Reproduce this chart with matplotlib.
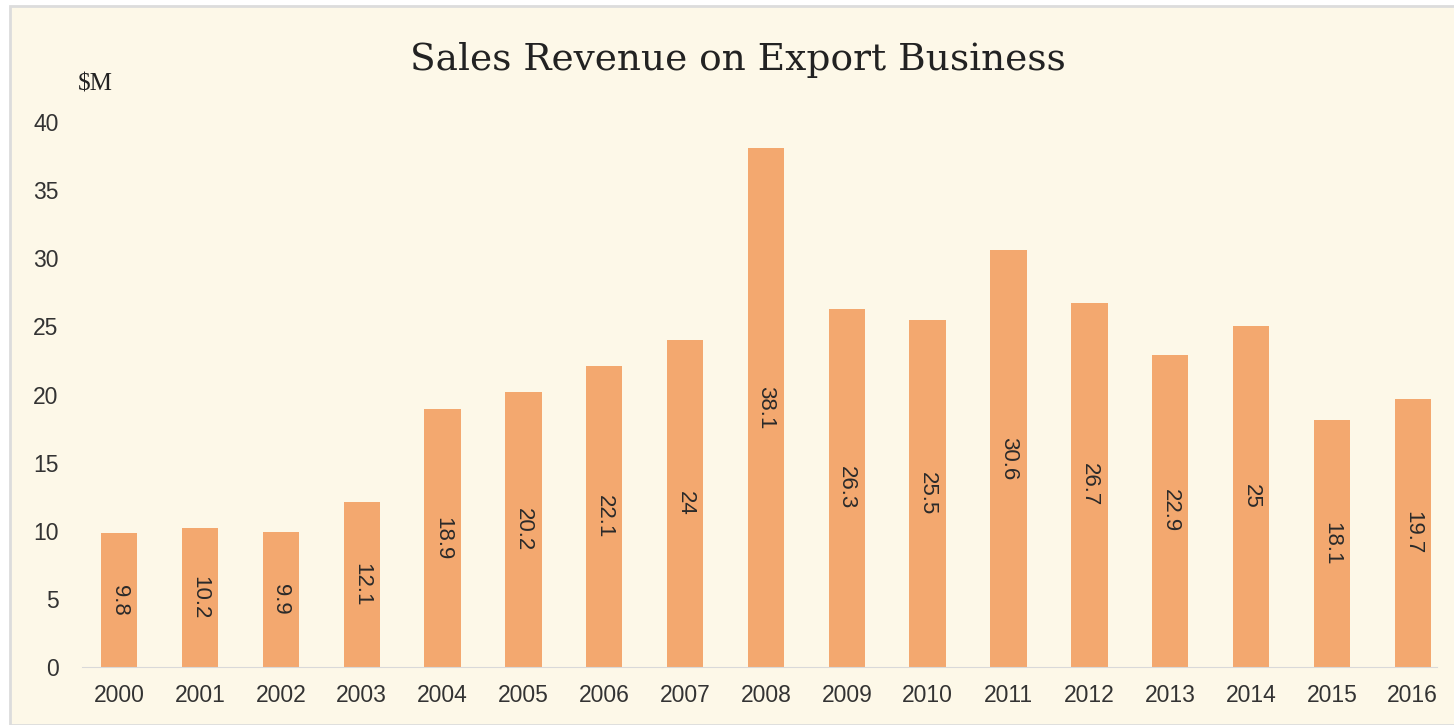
import matplotlib.pyplot as plt
from matplotlib.patches import Rectangle

years = ['2000', '2001', '2002', '2003', '2004', '2005', '2006', '2007', '2008',
         '2009', '2010', '2011', '2012', '2013', '2014', '2015', '2016']
revenue = [9.8, 10.2, 9.9, 12.1, 18.9, 20.2, 22.1, 24, 38.1,
           26.3, 25.5, 30.6, 26.7, 22.9, 25, 18.1, 19.7]
labels = ['9.8', '10.2', '9.9', '12.1', '18.9', '20.2', '22.1', '24', '38.1',
          '26.3', '25.5', '30.6', '26.7', '22.9', '25', '18.1', '19.7']

bg = '#fdf8e8'
bar_color = '#f3a86f'

fig = plt.figure(figsize=(14.54, 7.25), dpi=100, facecolor='white')
fig.patches.append(Rectangle((10 / 1454, 0), 1, 1 - 6 / 725, transform=fig.transFigure,
                             facecolor=bg, edgecolor='#dcdcdc', linewidth=2, zorder=-1))

ax = fig.add_axes([82 / 1454, 1 - 667 / 725, (1437 - 82) / 1454, (667 - 122) / 725])
ax.set_facecolor('none')
x = range(len(years))
bars = ax.bar(x, revenue, width=0.45, color=bar_color)
for xi, v, lab in zip(x, revenue, labels):
    ax.text(xi, v / 2, lab, rotation=270, ha='center', va='center',
            fontsize=16, color='#2a2a2a', family='Liberation Sans')

ax.set_xlim(-0.46, 16.3)
ax.set_ylim(0, 40)
ax.set_yticks(range(0, 41, 5))
ax.set_xticks(list(x))
ax.set_xticklabels(years)
for lab in ax.get_xticklabels() + ax.get_yticklabels():
    lab.set_family('Liberation Sans')
    lab.set_fontsize(16.5)
    lab.set_color('#333333')
ax.tick_params(length=0)
ax.tick_params(axis='x', pad=12)
ax.tick_params(axis='y', pad=17)
for s in ['top', 'right', 'left']:
    ax.spines[s].set_visible(False)
ax.spines['bottom'].set_color('#d9d9d9')

fig.text(738 / 1454, 1 - 60 / 725, 'Sales Revenue on Export Business', ha='center', va='center',
         fontsize=27, family='DejaVu Serif', color='#222222')
fig.text(78 / 1454, 1 - 85 / 725, '$M', ha='left', va='center', fontsize=18,
         family='Liberation Serif', color='#222222')

fig.savefig('out.png', dpi=100, facecolor=fig.get_facecolor())
